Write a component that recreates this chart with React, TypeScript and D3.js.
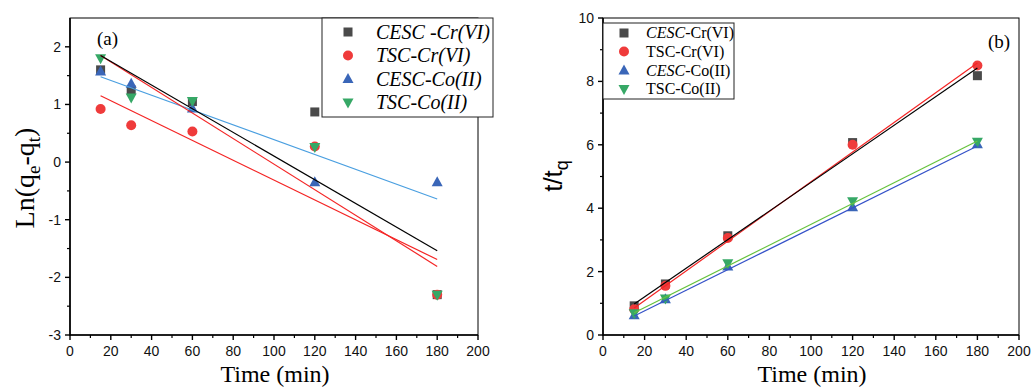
import * as d3 from "d3";

const times = [15, 30, 60, 120, 180];
const fitTimes = [15, 180];

// (a) ln(qe - qt) against time
const lnCescCr = [1.6, 1.25, 1.05, 0.87, -2.3];
const lnTscCr = [0.92, 0.64, 0.53, 0.27, -2.3];
const lnCescCo = [1.57, 1.36, 0.93, -0.35, -0.35];
const lnTscCo = [1.8, 1.12, 1.06, 0.26, -2.3];
// linear fits, read at t = 15 and t = 180
const fitLnCescCr = [1.85, -1.54];
const fitLnTscCr = [1.15, -1.69];
const fitLnCescCo = [1.48, -0.64];
const fitLnTscCo = [1.85, -1.81];

// (b) t/qt against time
const ttCescCr = [0.92, 1.61, 3.13, 6.07, 8.18];
const ttTscCr = [0.81, 1.55, 3.06, 6.0, 8.5];
const ttCescCo = [0.62, 1.13, 2.16, 4.03, 6.02];
const ttTscCo = [0.69, 1.15, 2.26, 4.22, 6.1];
const fitTtCescCr = [0.98, 8.42];
const fitTtTscCr = [0.85, 8.58];
const fitTtCescCo = [0.6, 5.96];
const fitTtTscCo = [0.7, 6.12];

const xTicks = [0, 20, 40, 60, 80, 100, 120, 140, 160, 180, 200];
const xMinor = d3.range(10, 200, 20);
const yTicksA = [-3, -2, -1, 0, 1, 2];
const yMinorA = [-2.5, -1.5, -0.5, 0.5, 1.5];
const yTicksB = [0, 2, 4, 6, 8, 10];
const yMinorB = [1, 3, 5, 7, 9];

const C_SQ = "#4a4a4a";
const C_RED = "#ef3b3b";
const C_BLUE = "#3a66b8";
const C_GREEN = "#36a866";

const SANS = "Liberation Sans, Arial, sans-serif";
const SERIF = "Liberation Serif, Times New Roman, serif";

type Shape = "square" | "circle" | "up" | "down";

function Marker({ shape, x, y, color }: { shape: Shape; x: number; y: number; color: string }) {
  if (shape === "square") return <rect x={x - 4.5} y={y - 4.5} width={9} height={9} fill={color} />;
  if (shape === "circle") return <circle cx={x} cy={y} r={5} fill={color} />;
  if (shape === "up")
    return <path d={`M${x},${y - 6}L${x + 5.5},${y + 4}L${x - 5.5},${y + 4}Z`} fill={color} />;
  return <path d={`M${x},${y + 6}L${x + 5.5},${y - 4}L${x - 5.5},${y - 4}Z`} fill={color} />;
}

interface Series {
  values: number[];
  shape: Shape;
  color: string;
}

interface Fit {
  values: number[];
  color: string;
}

function Frame({
  x,
  y,
  yTicks,
  yMinor,
}: {
  x: d3.ScaleLinear<number, number>;
  y: d3.ScaleLinear<number, number>;
  yTicks: number[];
  yMinor: number[];
}) {
  const [x0, x1] = x.range();
  const [y0, y1] = y.range();
  return (
    <g>
      <rect x={x0} y={y1} width={x1 - x0} height={y0 - y1} fill="none" stroke="#000" strokeWidth={1} />
      <line x1={x0} x2={x0} y1={y1} y2={y0 + 0.75} stroke="#000" strokeWidth={1.6} />
      <line x1={x0} x2={x1} y1={y0} y2={y0} stroke="#000" strokeWidth={1.6} />
      {xTicks.map((t) => (
        <g key={"xt" + t}>
          <line x1={x(t)} x2={x(t)} y1={y0} y2={y0 + 5} stroke="#000" strokeWidth={1.4} />
          <text x={x(t)} y={y0 + 21} textAnchor="middle" fontFamily={SANS} fontSize={14} fill="#111">
            {t}
          </text>
        </g>
      ))}
      {xMinor.map((t) => (
        <line key={"xm" + t} x1={x(t)} x2={x(t)} y1={y0} y2={y0 + 3} stroke="#000" strokeWidth={1.2} />
      ))}
      {yTicks.map((t) => (
        <g key={"yt" + t}>
          <line x1={x0 - 5} x2={x0} y1={y(t)} y2={y(t)} stroke="#000" strokeWidth={1.4} />
          <text x={x0 - 9} y={y(t)} dy="0.35em" textAnchor="end" fontFamily={SANS} fontSize={14} fill="#111">
            {t}
          </text>
        </g>
      ))}
      {yMinor.map((t) => (
        <line key={"ym" + t} x1={x0 - 3} x2={x0} y1={y(t)} y2={y(t)} stroke="#000" strokeWidth={1.2} />
      ))}
    </g>
  );
}

function Plot({
  x,
  y,
  series,
  fits,
}: {
  x: d3.ScaleLinear<number, number>;
  y: d3.ScaleLinear<number, number>;
  series: Series[];
  fits: Fit[];
}) {
  const line = d3
    .line<number>()
    .x((_, i) => x(fitTimes[i]))
    .y((d) => y(d));
  return (
    <g>
      {series.map((s, si) =>
        s.values.map((v, i) => (
          <Marker key={si + "-" + i} shape={s.shape} x={x(times[i])} y={y(v)} color={s.color} />
        ))
      )}
      {fits.map((f, i) => (
        <path key={"f" + i} d={line(f.values) || ""} fill="none" stroke={f.color} strokeWidth={1.2} />
      ))}
    </g>
  );
}

export default function App() {
  const xA = d3.scaleLinear().domain([0, 200]).range([70, 478]);
  const yA = d3.scaleLinear().domain([-3, 2.5]).range([335, 18]);
  const xB = d3.scaleLinear().domain([0, 200]).range([603, 1019]);
  const yB = d3.scaleLinear().domain([0, 10]).range([335, 18]);

  const seriesA: Series[] = [
    { values: lnCescCr, shape: "square", color: C_SQ },
    { values: lnTscCr, shape: "circle", color: C_RED },
    { values: lnCescCo, shape: "up", color: C_BLUE },
    { values: lnTscCo, shape: "down", color: C_GREEN },
  ];
  const fitsA: Fit[] = [
    { values: fitLnCescCo, color: "#4a9fe0" },
    { values: fitLnTscCr, color: "#f42424" },
    { values: fitLnTscCo, color: "#f42424" },
    { values: fitLnCescCr, color: "#000" },
  ];
  const seriesB: Series[] = [
    { values: ttCescCr, shape: "square", color: C_SQ },
    { values: ttTscCr, shape: "circle", color: C_RED },
    { values: ttCescCo, shape: "up", color: C_BLUE },
    { values: ttTscCo, shape: "down", color: C_GREEN },
  ];
  const fitsB: Fit[] = [
    { values: fitTtCescCo, color: "#3552c8" },
    { values: fitTtTscCo, color: "#66c23e" },
    { values: fitTtTscCr, color: "#f42424" },
    { values: fitTtCescCr, color: "#000" },
  ];

  const legendA = ["CESC -Cr(VI)", "TSC-Cr(VI)", "CESC-Co(II)", "TSC-Co(II)"];
  const legendB = [
    ["CESC", "-Cr(VI)"],
    ["", "TSC-Cr(VI)"],
    ["CESC", "-Co(II)"],
    ["", "TSC-Co(II)"],
  ];
  const rowsA = [32, 55.5, 79, 102.5];
  const rowsB = [33, 51.5, 70.5, 89];

  return (
    <svg
      width={1031}
      height={388}
      style={{ position: "absolute", left: 0, top: 0, background: "#fff" }}
    >
      {/* panel (a) */}
      <Frame x={xA} y={yA} yTicks={yTicksA} yMinor={yMinorA} />
      <Plot x={xA} y={yA} series={seriesA} fits={fitsA} />
      <text x={97} y={45} fontFamily={SERIF} fontSize={19}>
        (a)
      </text>
      <g>
        <rect x={322} y={18} width={171} height={99} fill="#fff" stroke="#222" strokeWidth={1} />
        {legendA.map((name, i) => (
          <g key={name}>
            <Marker shape={seriesA[i].shape} x={348} y={rowsA[i]} color={seriesA[i].color} />
            <text x={376} y={rowsA[i]} dy="0.33em" fontFamily={SERIF} fontStyle="italic" fontSize={20}>
              {name}
            </text>
          </g>
        ))}
      </g>
      <text x={275} y={382} textAnchor="middle" fontFamily={SERIF} fontSize={24}>
        Time (min)
      </text>
      <text transform="translate(34,178) rotate(-90)" textAnchor="middle" fontFamily={SERIF} fontSize={28}>
        Ln(q
        <tspan fontSize={19} dy={6}>e</tspan>
        <tspan dy={-6}>-q</tspan>
        <tspan fontSize={19} dy={6}>t</tspan>
        <tspan dy={-6}>)</tspan>
      </text>

      {/* panel (b) */}
      <Frame x={xB} y={yB} yTicks={yTicksB} yMinor={yMinorB} />
      <Plot x={xB} y={yB} series={seriesB} fits={fitsB} />
      <text x={988} y={48} fontFamily={SERIF} fontSize={19}>
        (b)
      </text>
      <g>
        <rect x={603} y={23} width={131} height={76} fill="#fff" stroke="#222" strokeWidth={1} />
        {legendB.map(([it, rest], i) => (
          <g key={i}>
            <Marker shape={seriesB[i].shape} x={624} y={rowsB[i]} color={seriesB[i].color} />
            <text x={646} y={rowsB[i]} dy="0.33em" fontFamily={SERIF} fontSize={16}>
              {it && <tspan fontStyle="italic">{it}</tspan>}
              {rest}
            </text>
          </g>
        ))}
      </g>
      <text x={812} y={382} textAnchor="middle" fontFamily={SERIF} fontSize={24}>
        Time (min)
      </text>
      <text transform="translate(562,176) rotate(-90)" textAnchor="middle" fontFamily={SANS} fontSize={26}>
        t/t
        <tspan fontSize={18} dy={6}>q</tspan>
      </text>
    </svg>
  );
}
